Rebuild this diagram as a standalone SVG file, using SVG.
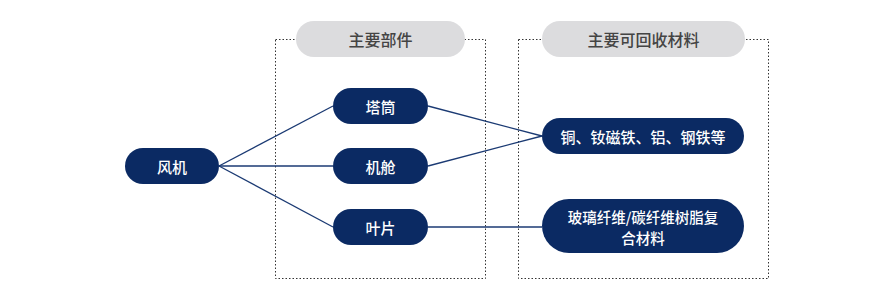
<svg xmlns="http://www.w3.org/2000/svg" width="888" height="296" viewBox="0 0 888 296">
<style>
.frame{fill:none;stroke:#333;stroke-width:1;stroke-dasharray:1.5 2}
.pill{fill:#dcdcde}
.ptxt{font-family:"Noto Sans CJK SC","Noto Sans",sans-serif;font-size:16px;font-weight:500;fill:#444;text-anchor:middle;dominant-baseline:central}
.node{fill:#0b2a63}
.ntxt{font-family:"Noto Sans CJK SC","Noto Sans",sans-serif;font-size:15px;font-weight:500;fill:#fff;text-anchor:middle;dominant-baseline:central}
.small{font-size:14.5px}
.conn{stroke:#1b3a73;stroke-width:1.3;fill:none}
</style>
<rect width="888" height="296" fill="#fff"/>
<g id="frames">
<rect class="frame" x="275.5" y="39.5" width="210" height="239"/>
<rect class="frame" x="518.5" y="39.5" width="250" height="239"/>
</g>
<g id="header-parts"><rect class="pill" x="296" y="21" width="169" height="36" rx="18"/><text class="ptxt" x="380.5" y="39">主要部件</text></g>
<g id="header-materials"><rect class="pill" x="542" y="21" width="203" height="36" rx="18"/><text class="ptxt" x="643.5" y="39">主要可回收材料</text></g>
<g id="connectors">
<line class="conn" x1="219" y1="166" x2="333" y2="106"/>
<line class="conn" x1="219" y1="166" x2="333" y2="166"/>
<line class="conn" x1="219" y1="166" x2="333" y2="227"/>
<line class="conn" x1="428" y1="106" x2="542" y2="136"/>
<line class="conn" x1="428" y1="166" x2="542" y2="136"/>
<line class="conn" x1="428" y1="227" x2="542" y2="227"/>
</g>
<g id="fengji"><rect class="node" x="125" y="148" width="94" height="36" rx="18"/><text class="ntxt" x="172" y="166">风机</text></g>
<g id="tatong"><rect class="node" x="333" y="88" width="95" height="36" rx="18"/><text class="ntxt" x="380.5" y="106">塔筒</text></g>
<g id="jicang"><rect class="node" x="333" y="148" width="95" height="36" rx="18"/><text class="ntxt" x="380.5" y="166">机舱</text></g>
<g id="yepian"><rect class="node" x="333" y="209" width="95" height="36" rx="18"/><text class="ntxt" x="380.5" y="227">叶片</text></g>
<g id="metals"><rect class="node" x="542" y="118" width="202" height="36" rx="18"/><text class="ntxt" x="643" y="136">铜、钕磁铁、铝、钢铁等</text></g>
<g id="composites"><rect class="node" x="542" y="199" width="202" height="54" rx="27"/><text class="ntxt small" x="643" y="215.5"><tspan x="643" y="215.5">玻璃纤维/碳纤维树脂复</tspan><tspan x="643" y="236.5">合材料</tspan></text></g>
</svg>
